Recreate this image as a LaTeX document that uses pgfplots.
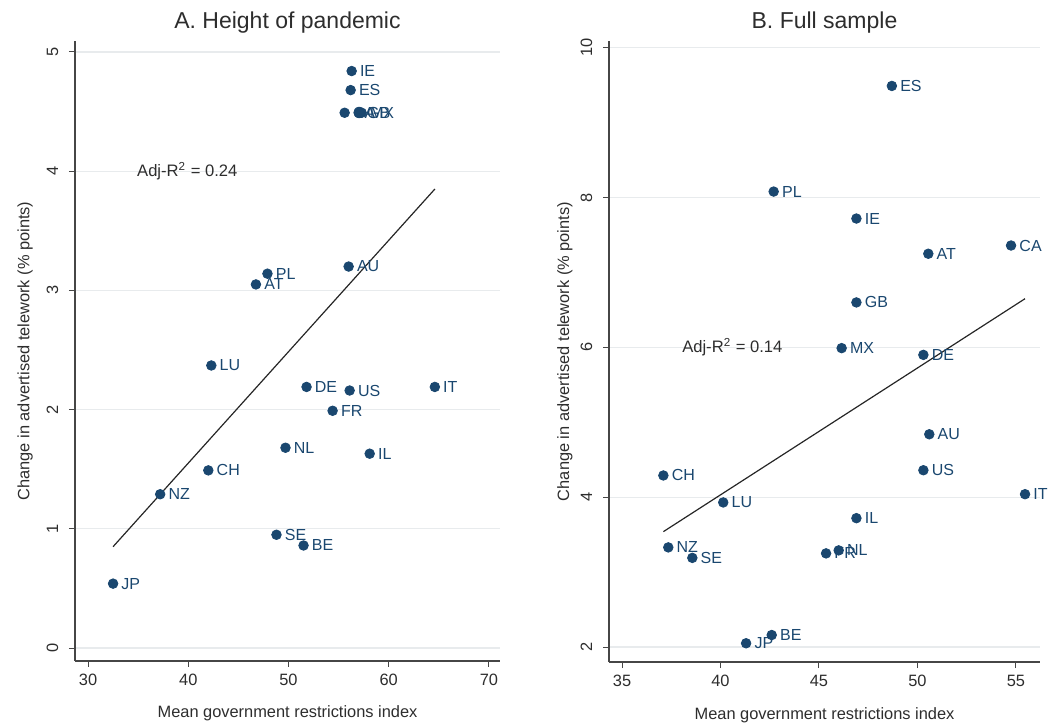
\documentclass[border=0pt]{standalone}
\usepackage{fontspec}
\setmainfont{Liberation Sans}
\usepackage{pgfplots}
\usepackage{pgfplotstable}
\pgfplotsset{compat=1.18}
\definecolor{navy}{RGB}{26,71,111}
\definecolor{gridc}{RGB}{232,235,237}
\definecolor{axc}{RGB}{70,70,70}
\definecolor{txt}{RGB}{45,45,45}

\pgfplotstableread{
x y label
32.5 0.54 JP
37.2 1.29 NZ
42.0 1.49 CH
42.3 2.37 LU
46.75 3.05 AT
47.9 3.14 PL
48.8 0.95 SE
49.7 1.68 NL
51.5 0.86 BE
51.8 2.19 DE
54.4 1.99 FR
55.6 4.49 CA
56.0 3.20 AU
56.1 2.16 US
56.2 4.68 ES
56.3 4.84 IE
57.0 4.49 GB
57.3 4.49 MX
58.1 1.63 IL
64.6 2.19 IT
}\dataA

\pgfplotstableread{
x y label
37.1 4.29 CH
37.35 3.33 NZ
38.57 3.19 SE
40.14 3.93 LU
41.3 2.05 JP
42.6 2.16 BE
42.7 8.08 PL
45.36 3.25 FR
46.0 3.29 NL
46.15 5.99 MX
46.9 7.72 IE
46.9 6.60 GB
46.9 3.72 IL
48.7 9.49 ES
50.3 5.90 DE
50.3 4.36 US
50.55 7.25 AT
50.6 4.84 AU
54.75 7.36 CA
55.46 4.04 IT
}\dataB

\pgfplotsset{
  stata/.style={
    scale only axis,
    axis lines*=left,
    axis line style={axc, line width=0.6pt},
    ymajorgrids,
    grid style={gridc, line width=0.6pt},
    tick align=outside,
    major tick length=3pt,
    tick style={axc, line width=0.5pt},
    /pgf/number format/assume math mode=true,
    ticklabel style={font=\fontsize{8.2}{9}\selectfont, text=txt},
    yticklabel style={rotate=90, anchor=south, inner sep=0pt},
    xticklabel style={anchor=north, inner sep=0pt},
    yticklabel shift=5.2pt,
    xticklabel shift=3.4pt,
    label style={font=\fontsize{8.2}{9}\selectfont, text=txt},
    title style={font=\fontsize{11.5}{13}\selectfont, text=txt, at={(axis description cs:0.5,1)}, anchor=center, yshift=3pt},
    xlabel={Mean government restrictions index},
    ylabel={Change in advertised telework (\% points)},
    clip=false,
  },
  pts/.style={only marks, mark=*, mark size=2.4pt, color=navy,
    nodes near coords, point meta=explicit symbolic,
    every node near coord/.append style={anchor=west, xshift=4pt, inner sep=0pt,
      font=\fontsize{8}{9}\selectfont, text=navy}},
  fit/.style={black!85, line width=0.6pt, no marks},
}

\begin{document}
\begin{tikzpicture}
\useasboundingbox (0,0) rectangle (525.5pt,362pt);
% Panel A
\begin{axis}[stata,
  at={(37.5pt,31.5pt)}, anchor=south west,
  width=212.5pt, height=310pt,
  xmin=28.70, xmax=71.10, ymin=-0.109, ymax=5.092,
  xtick={30,40,50,60,70}, ytick={0,1,2,3,4,5},
  title={A. Height of pandemic},
  xlabel style={at={(axis description cs:0.5,-0.0837)}, anchor=center},
  ylabel style={at={(axis description cs:-0.1176,0.5)}, anchor=center},
]
\addplot[pts] table[x=x, y=y, meta=label] {\dataA};
\addplot[fit] coordinates {(32.5,0.85) (64.6,3.85)};
\node[anchor=west, font=\fontsize{8.3}{9}\selectfont, text=txt] at (axis cs:34.2,4.0) {Adj-R\textsuperscript{2} = 0.24};
\end{axis}
% Panel B
\begin{axis}[stata,
  at={(304.5pt,31pt)}, anchor=south west,
  width=215.5pt, height=310.5pt,
  xmin=34.34, xmax=56.22, ymin=1.80, ymax=10.09,
  xtick={35,40,45,50,55}, ytick={2,4,6,8,10},
  title={B. Full sample},
  xlabel style={at={(axis description cs:0.5,-0.0852)}, anchor=center},
  ylabel style={at={(axis description cs:-0.1021,0.5)}, anchor=center},
]
\addplot[pts] table[x=x, y=y, meta=label] {\dataB};
\addplot[fit] coordinates {(37.1,3.54) (55.46,6.65)};
\node[anchor=west, font=\fontsize{8.3}{9}\selectfont, text=txt] at (axis cs:37.7,6.0) {Adj-R\textsuperscript{2} = 0.14};
\end{axis}
\end{tikzpicture}
\end{document}
